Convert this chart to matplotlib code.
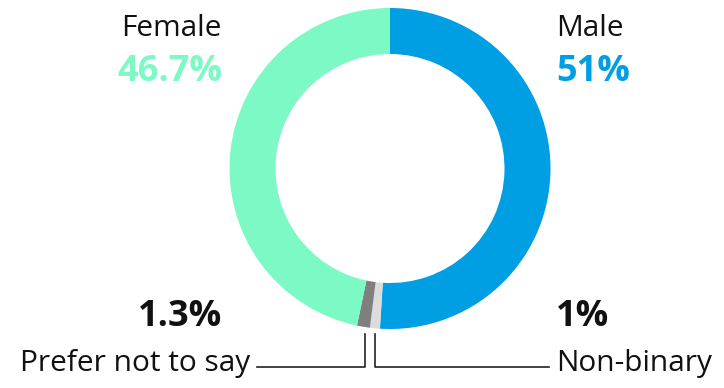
import matplotlib
matplotlib.use("Agg")
import matplotlib.pyplot as plt

labels = ["Male", "Non-binary", "Prefer not to say", "Female"]
values = [51, 1, 1.3, 46.7]
value_text = ["51%", "1%", "1.3%", "46.7%"]
colors = ["#009fe3", "#dcdcdc", "#7f7f7f", "#7cf9c4"]

W, H = 724, 388
fig = plt.figure(figsize=(W / 100, H / 100), dpi=100)
ax = fig.add_axes([0, 0, 1, 1])

cx, cy = 390, H - 168.5
ax.pie(values, colors=colors, startangle=90, counterclock=False,
       center=(cx, cy), radius=160.5, frame=True,
       wedgeprops=dict(width=46, edgecolor="none"))
ax.set_xlim(0, W)
ax.set_ylim(0, H)
ax.set_aspect("equal")
ax.axis("off")

font = "Open Sans"
label_size = 21.5
value_size = 26


def y(v):
    return H - v


# Female / Male
ax.text(222, y(28), labels[3], ha="right", va="center", fontsize=label_size, family=font, color="#111111")
ax.text(222, y(72), value_text[3], ha="right", va="center", fontsize=value_size, family=font,
        fontweight="bold", color=colors[3])
ax.text(556, y(28), labels[0], ha="left", va="center", fontsize=label_size, family=font, color="#111111")
ax.text(556, y(72), value_text[0], ha="left", va="center", fontsize=value_size, family=font,
        fontweight="bold", color=colors[0])

# small categories
ax.text(222, y(317), value_text[2], ha="right", va="center", fontsize=value_size, family=font,
        fontweight="bold", color="#111111")
ax.text(556, y(317), value_text[1], ha="left", va="center", fontsize=value_size, family=font,
        fontweight="bold", color="#111111")
ax.text(250, y(364), labels[2], ha="right", va="center", fontsize=label_size, family=font, color="#111111")
ax.text(556, y(364), labels[1], ha="left", va="center", fontsize=label_size, family=font, color="#111111")

# leader lines
ax.plot([365, 365, 257], [y(334), y(367), y(367)], color="#222222", lw=1.2)
ax.plot([375, 375, 549], [y(334), y(367), y(367)], color="#222222", lw=1.2)

fig.savefig("out.png", dpi=100)
